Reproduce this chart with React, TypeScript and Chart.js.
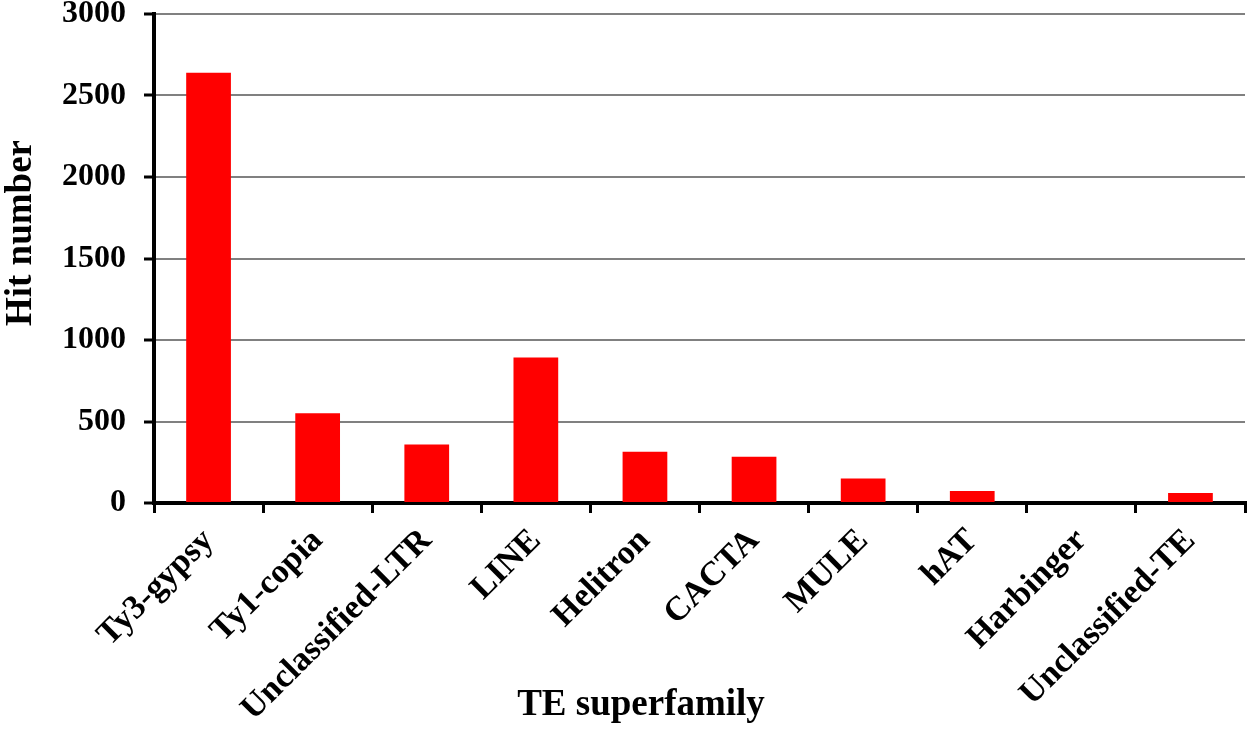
import { useEffect, useRef } from 'react'
import { Chart, registerables } from 'chart.js'

Chart.register(...registerables)

const FAMILIES = [
  'Ty3-gypsy',
  'Ty1-copia',
  'Unclassified-LTR',
  'LINE',
  'Helitron',
  'CACTA',
  'MULE',
  'hAT',
  'Harbinger',
  'Unclassified-TE',
]

const HITS = [2639, 550, 359, 892, 314, 283, 151, 74, 0, 62]

const Y_TITLE = 'Hit number'
const X_TITLE = 'TE superfamily'

const FONT = '"Liberation Serif", "Times New Roman", serif'

// axis titles sit a little off the scale centre in the original, so draw them by hand
const axisTitles = {
  id: 'axisTitles',
  afterDraw(chart: Chart) {
    const { ctx } = chart
    ctx.save()
    ctx.fillStyle = '#000'
    ctx.font = `bold 37px ${FONT}`
    ctx.textAlign = 'center'
    ctx.textBaseline = 'middle'
    ctx.translate(21, 233)
    ctx.rotate(-Math.PI / 2)
    ctx.fillText(Y_TITLE, 0, 0)
    ctx.restore()

    ctx.save()
    ctx.fillStyle = '#000'
    ctx.font = `bold 37px ${FONT}`
    ctx.textAlign = 'center'
    ctx.textBaseline = 'middle'
    ctx.fillText(X_TITLE, 641, 705)
    ctx.restore()
  },
}

export default function App() {
  const canvasRef = useRef<HTMLCanvasElement>(null)

  useEffect(() => {
    if (!canvasRef.current) return
    document.body.style.margin = '0'

    const chart = new Chart(canvasRef.current, {
      type: 'bar',
      data: {
        labels: FAMILIES,
        datasets: [
          {
            data: HITS,
            backgroundColor: '#FF0000',
            borderWidth: 0,
            categoryPercentage: 1,
            barPercentage: 0.41,
          },
        ],
      },
      options: {
        animation: false,
        responsive: true,
        maintainAspectRatio: false,
        layout: { padding: { top: 14, right: 5, left: 0, bottom: 0 } },
        plugins: {
          legend: { display: false },
          tooltip: { enabled: false },
        },
        scales: {
          x: {
            afterFit: (scale) => {
              scale.height = 227
              scale.paddingLeft = 0
              scale.paddingRight = 0
            },
            grid: {
              offset: true,
              drawOnChartArea: false,
              color: '#000',
              lineWidth: 3,
              tickLength: 10,
            },
            border: { color: '#000', width: 4 },
            ticks: {
              color: '#000',
              font: { family: FONT, size: 34, weight: 'bold' },
              minRotation: 45,
              maxRotation: 45,
              autoSkip: false,
              padding: 8,
            },
          },
          y: {
            min: 0,
            max: 3000,
            afterFit: (scale) => {
              scale.width = 154
              scale.paddingTop = 0
              scale.paddingBottom = 0
            },
            grid: {
              color: '#808080',
              lineWidth: 2,
              tickColor: '#000',
              tickWidth: 3,
              tickLength: 10,
            },
            border: { color: '#000', width: 4 },
            ticks: {
              stepSize: 500,
              color: '#000',
              font: { family: FONT, size: 32, weight: 'bold' },
              padding: 18,
              callback: (value) => String(value),
            },
          },
        },
      },
      plugins: [axisTitles],
    })

    return () => chart.destroy()
  }, [])

  return (
    <div style={{ width: 1250, height: 730, position: 'relative', background: '#fff' }}>
      <canvas ref={canvasRef} />
    </div>
  )
}
